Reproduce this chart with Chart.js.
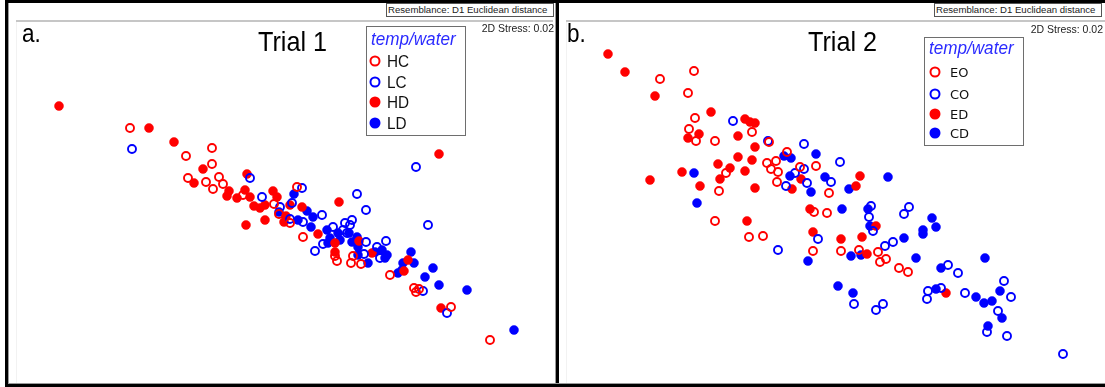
<!DOCTYPE html>
<html>
<head>
<meta charset="utf-8">
<script src="https://cdn.jsdelivr.net/npm/chart.js@4.4.1/dist/chart.umd.min.js"></script>
<style>
body { margin:0; background:#fff; width:1105px; height:387px; overflow:hidden; position:relative;
       font-family:"Liberation Sans", Arial, sans-serif; }
.abs { position:absolute; white-space:nowrap; line-height:1; }
.line { position:absolute; }
canvas { position:absolute; }
.box { position:absolute; border:1px solid #6e6e6e; box-sizing:border-box; }
.res { position:absolute; border:1px solid #555; box-sizing:border-box; font-size:9.6px; color:#222;
       line-height:11px; padding-left:1px; white-space:nowrap; overflow:hidden; }
.mark { position:absolute; width:11px; height:11px; border-radius:50%; box-sizing:border-box;
        transform:translate(-50%,-50%); }
.squeeze { transform:scaleX(0.9); transform-origin:0 0; }
</style>
</head>
<body>

<!-- frame -->
<div class="line" style="left:5px;top:0;width:1100px;height:3px;background:#000"></div>
<div class="line" style="left:5px;top:0;width:3px;height:387px;background:#000"></div>
<div class="line" style="left:5px;top:384px;width:1100px;height:3px;background:#000"></div>
<div class="line" style="left:556px;top:0;width:3px;height:387px;background:#000"></div>
<div class="line" style="left:8px;top:3px;width:1px;height:381px;background:#9a9a9a"></div>
<div class="line" style="left:555px;top:3px;width:1px;height:381px;background:#9a9a9a"></div>
<div class="line" style="left:8px;top:383px;width:1097px;height:1px;background:#9a9a9a"></div>
<div class="line" style="left:16px;top:20px;width:537px;height:2px;background:#c6c6c6"></div>
<div class="line" style="left:566px;top:20px;width:539px;height:2px;background:#c6c6c6"></div>
<div class="line" style="left:16px;top:22px;width:1px;height:361px;background:#f2f2f2"></div>
<div class="line" style="left:566px;top:22px;width:1px;height:361px;background:#f2f2f2"></div>

<canvas id="c1" width="537" height="361" style="left:16px;top:22px"></canvas>
<canvas id="c2" width="539" height="361" style="left:566px;top:22px"></canvas>

<div class="res" style="left:386px;top:3px;width:168px;height:14px">Resemblance: D1 Euclidean distance</div>
<div class="res" style="left:934px;top:3px;width:168px;height:14px">Resemblance: D1 Euclidean distance</div>
<div class="abs" style="right:551px;top:23px;font-size:10.5px;color:#222">2D Stress: 0.02</div>
<div class="abs" style="right:2px;top:24px;font-size:10.5px;color:#222">2D Stress: 0.02</div>

<div class="abs squeeze" style="left:22px;top:21px;font-size:25px">a.</div>
<div class="abs squeeze" style="left:567px;top:21px;font-size:25px">b.</div>
<div class="abs squeeze" style="left:258px;top:28px;font-size:28px">Trial 1</div>
<div class="abs squeeze" style="left:808px;top:28px;font-size:28px">Trial 2</div>

<div id="legends"></div>

<script>
// group names for each trial
const trial1Groups = ['HC', 'LC', 'HD', 'LD'];
const trial2Groups = ['EO', 'CO', 'ED', 'CD'];

// MDS ordination scores (MDS1, MDS2 in plot units, MDS2 counted downward)
const trial1HC = [[130,128],[212,148],[186,156],[212,164],[188,178],[206,182],[219,177],[223,184],[213,189],
  [243,195],[297,187],[274,204],[279,214],[290,223],[303,237],[335,256],[337,261],[351,263],[361,264],
  [353,256],[390,275],[414,288],[416,292],[419,289],[451,307],[490,340]];
const trial1LC = [[132,149],[250,178],[262,197],[302,188],[357,194],[416,167],[280,207],[292,203],[322,215],
  [303,222],[290,219],[366,210],[428,225],[333,227],[345,223],[352,220],[350,225],[343,230],[347,233],
  [323,244],[315,251],[366,242],[386,241],[377,247],[364,254],[380,258],[423,291],[447,313]];
const trial1HD = [[59,106],[149,128],[174,142],[203,169],[194,183],[247,174],[229,191],[227,196],[237,198],
  [245,190],[250,197],[273,191],[277,197],[254,206],[260,208],[265,205],[290,205],[302,207],[339,202],
  [439,154],[286,216],[284,222],[265,220],[246,225],[318,234],[335,243],[359,241],[335,252],[372,253],
  [408,260],[404,271],[441,308]];
const trial1LD = [[294,194],[307,211],[279,212],[298,220],[313,217],[311,227],[327,230],[330,238],[338,233],
  [340,240],[328,243],[349,233],[357,237],[352,242],[358,247],[382,250],[375,252],[387,255],[385,258],
  [368,263],[358,255],[411,252],[414,263],[403,263],[402,270],[398,273],[433,268],[425,277],[439,285],
  [467,290],[514,330]];

const trial2EO = [[660,79],[694,71],[688,93],[695,118],[689,129],[696,141],[715,141],[752,132],[769,142],
  [787,152],[767,163],[776,161],[771,169],[778,172],[777,182],[800,167],[816,166],[726,173],[719,191],
  [829,193],[715,221],[749,237],[763,236],[814,212],[827,213],[813,251],[841,251],[859,250],[878,252],
  [886,259],[880,262],[899,268],[908,272]];
const trial2CO = [[733,121],[768,141],[804,144],[804,169],[840,162],[786,186],[795,173],[807,183],[831,182],
  [778,250],[871,206],[869,217],[873,231],[818,239],[885,246],[893,242],[904,214],[909,207],[948,265],
  [958,273],[854,304],[876,310],[883,304],[928,291],[927,299],[941,288],[965,293],[1004,281],[1011,297],
  [998,311],[987,332],[1007,336],[1063,354]];
const trial2ED = [[608,54],[625,72],[655,96],[711,112],[745,119],[750,122],[755,123],[688,138],[699,134],
  [738,136],[755,147],[738,157],[752,160],[718,164],[730,168],[745,171],[720,179],[682,172],[650,180],
  [700,186],[755,188],[801,179],[792,189],[856,186],[860,176],[747,221],[810,209],[876,226],[813,232],
  [841,239],[862,237],[867,254],[946,293]];
const trial2CD = [[784,156],[791,158],[816,154],[694,173],[790,176],[811,192],[825,177],[849,189],[888,177],
  [697,203],[842,209],[868,209],[870,226],[808,261],[851,256],[861,255],[904,238],[932,218],[936,227],
  [923,230],[923,234],[916,258],[941,268],[985,258],[838,286],[853,293],[936,289],[976,297],[984,303],
  [992,301],[1000,291],[1002,318],[988,326]];

// style per group slot: open red, open blue, filled red, filled blue
const colours = ['#ff0000', '#0000ff', '#ff0000', '#0000ff'];
const hollow = [true, true, false, false];

function buildChart(id, names, series, xr, yr) {
    var datasets = series.map(function(pts, i) {
        return {
            label: names[i],
            data: pts.map(function(p) { return {x: p[0], y: p[1]}; }),
            pointStyle: 'circle',
            pointRadius: hollow[i] ? 4 : 4.5,
            pointBorderWidth: hollow[i] ? 1.9 : 0.5,
            pointBorderColor: colours[i],
            pointBackgroundColor: hollow[i] ? 'rgba(0,0,0,0)' : colours[i],
            showLine: false,
            clip: false
        };
    });
    return new Chart(document.getElementById(id), {
        type: 'scatter',
        data: { datasets: datasets },
        options: {
            responsive: false,
            animation: false,
            layout: { padding: 0, autoPadding: false },
            plugins: { legend: { display: false }, tooltip: { enabled: false } },
            scales: {
                x: { type: 'linear', display: false, min: xr[0], max: xr[1] },
                y: { type: 'linear', display: false, min: yr[0], max: yr[1], reverse: true }
            }
        }
    });
}

buildChart('c1', trial1Groups, [trial1HC, trial1LC, trial1HD, trial1LD], [16, 553], [22, 383]);
buildChart('c2', trial2Groups, [trial2EO, trial2CO, trial2ED, trial2CD], [566, 1105], [22, 383]);

// legends
function buildLegend(names, box, title, items) {
    var root = document.getElementById('legends');
    var b = document.createElement('div');
    b.className = 'box';
    b.style.cssText = 'left:' + box[0] + 'px;top:' + box[1] + 'px;width:' + box[2] + 'px;height:' + box[3] + 'px';
    root.appendChild(b);
    var t = document.createElement('div');
    t.className = 'abs' + (title.squeeze ? ' squeeze' : '');
    t.style.cssText += 'left:' + title.x + 'px;top:' + title.y + 'px;font-size:' + title.size +
        'px;font-style:italic;color:#2b2bff';
    t.textContent = 'temp/water';
    root.appendChild(t);
    names.forEach(function(n, i) {
        var m = document.createElement('div');
        m.className = 'mark';
        m.style.cssText = 'left:' + items.mx + 'px;top:' + items.ys[i] + 'px;border:2px solid ' + colours[i] +
            ';background:' + (hollow[i] ? 'transparent' : colours[i]);
        root.appendChild(m);
        var l = document.createElement('div');
        l.className = 'abs' + (items.squeeze ? ' squeeze' : '');
        l.style.cssText = 'left:' + items.tx + 'px;top:' + (items.ys[i] + items.dy) + 'px;font-size:' +
            items.size + 'px;font-family:' + items.font + ';color:#111';
        l.textContent = n;
        root.appendChild(l);
    });
}

buildLegend(trial1Groups, [366, 26, 100, 110],
    {x: 371, y: 29, size: 19, squeeze: true},
    {mx: 375, tx: 387, ys: [61, 82, 102, 123], dy: -8.4, size: 17, font: '"Liberation Sans", Arial', squeeze: true});
buildLegend(trial2Groups, [924, 37, 100, 109],
    {x: 929, y: 38, size: 19, squeeze: true},
    {mx: 935, tx: 950, ys: [72, 94, 114, 133], dy: -6.3, size: 13, font: '"DejaVu Sans"', squeeze: false});
</script>
</body>
</html>
